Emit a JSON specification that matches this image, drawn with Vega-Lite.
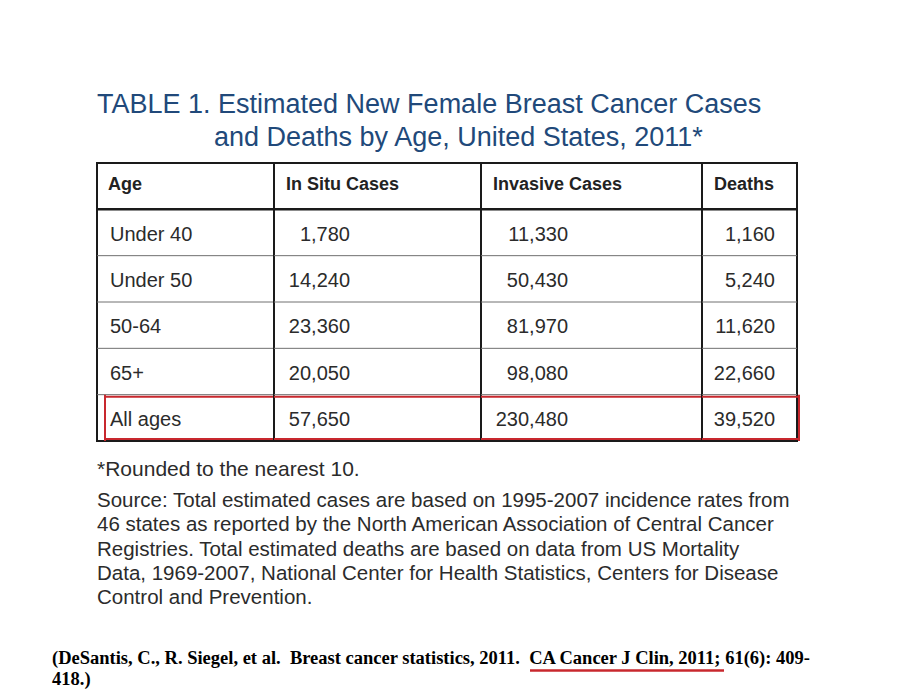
{
  "$schema": "https://vega.github.io/schema/vega-lite/v6.json",
  "background": "white",
  "padding": {"left": 52, "top": 64, "right": 0, "bottom": 0},
  "spacing": 0,
  "config": {"view": {"stroke": null}, "text": {"font": "Liberation Sans"}},
  "datasets": {
    "title": [
      {"line": 1, "text": "TABLE 1. Estimated New Female Breast Cancer Cases"},
      {"line": 2, "text": "and Deaths by Age, United States, 2011*"}
    ],
    "rows": [
      {"Age": "Under 40", "InSitu": 1780, "Invasive": 11330, "Deaths": 1160},
      {"Age": "Under 50", "InSitu": 14240, "Invasive": 50430, "Deaths": 5240},
      {"Age": "50-64", "InSitu": 23360, "Invasive": 81970, "Deaths": 11620},
      {"Age": "65+", "InSitu": 20050, "Invasive": 98080, "Deaths": 22660},
      {"Age": "All ages", "InSitu": 57650, "Invasive": 230480, "Deaths": 39520}
    ],
    "notes": [
      {"line": 0, "text": "*Rounded to the nearest 10."},
      {"line": 1, "text": "Source: Total estimated cases are based on 1995-2007 incidence rates from"},
      {"line": 2, "text": "46 states as reported by the North American Association of Central Cancer"},
      {"line": 3, "text": "Registries. Total estimated deaths are based on data from US Mortality"},
      {"line": 4, "text": "Data, 1969-2007, National Center for Health Statistics, Centers for Disease"},
      {"line": 5, "text": "Control and Prevention."}
    ],
    "cite": [
      {"line": 1, "text": "(DeSantis, C., R. Siegel, et al.\u00a0 Breast cancer statistics, 2011.\u00a0 CA Cancer J Clin, 2011; 61(6): 409-"},
      {"line": 2, "text": "418.)"}
    ]
  },
  "vconcat": [
    {
      "width": 868,
      "height": 98,
      "data": {"name": "title"},
      "encoding": {
        "y": {"field": "line", "type": "ordinal", "axis": null,
              "scale": {"type": "point", "domain": [1, 2], "padding": 1, "align": 0.75}}
      },
      "layer": [
        {
          "transform": [{"filter": "datum.line == 1"}],
          "mark": {"type": "text", "align": "left", "baseline": "alphabetic", "dx": -389, "fontSize": 27, "letterSpacing": -0.12, "fill": "#21497a"},
          "encoding": {"text": {"field": "text"}}
        },
        {
          "transform": [{"filter": "datum.line == 2"}],
          "mark": {"type": "text", "align": "left", "baseline": "alphabetic", "dx": -272, "fontSize": 27, "letterSpacing": 0.5, "fill": "#21497a"},
          "encoding": {"text": {"field": "text"}}
        }
      ]
    },
    {
      "spacing": 0,
      "bounds": "flush",
      "hconcat": [
        {
          "width": 45, "height": 278,
          "data": {"values": [{}]},
          "mark": {"type": "text", "text": ""},
          "encoding": {}
        },
        {
          "width": 177, "height": 278,
          "view": {"stroke": "#1a1a1a", "strokeWidth": 2},
          "layer": [
            {"data": {"name": "rows"}, "mark": {"type": "rule", "color": "#707070", "strokeWidth": 1},
             "encoding": {"y": {"field": "Age", "type": "ordinal", "bandPosition": 0, "axis": null,
               "scale": {"type": "band", "domain": ["Age", "Under 40", "Under 50", "50-64", "65+", "All ages"], "paddingInner": 0, "paddingOuter": 0}}}},
            {"data": {"values": [{}]}, "mark": {"type": "rule", "color": "#1a1a1a", "strokeWidth": 2.5},
             "encoding": {"y": {"datum": "Under 40", "type": "ordinal", "bandPosition": 0}}},
            {"data": {"values": [{}]}, "mark": {"type": "text", "text": "Age", "align": "left", "baseline": "middle", "dx": -77.5, "dy": -1, "fontWeight": "bold", "fontSize": 18, "fill": "#222222"},
             "encoding": {"y": {"datum": "Age", "type": "ordinal"}}},
            {"data": {"name": "rows"}, "mark": {"type": "text", "align": "left", "baseline": "middle", "dx": -75.5, "dy": 2, "fontSize": 20, "fill": "#2b2b2b"},
             "encoding": {"y": {"field": "Age", "type": "ordinal"}, "text": {"field": "Age"}}},
            {"data": {"values": [{}]}, "mark": {"type": "rule", "color": "#c8282e", "strokeWidth": 2, "yOffset": 2},
             "encoding": {"y": {"datum": "All ages", "type": "ordinal", "bandPosition": 0}, "x": {"value": 7}, "x2": {"value": 177}}},
            {"data": {"values": [{}]}, "mark": {"type": "rule", "color": "#c8282e", "strokeWidth": 2, "yOffset": -2},
             "encoding": {"y": {"datum": "All ages", "type": "ordinal", "bandPosition": 1}, "x": {"value": 7}, "x2": {"value": 177}}},
            {"data": {"values": [{}]}, "mark": {"type": "rect", "fill": "#c8282e"},
             "encoding": {"y": {"datum": "All ages", "type": "ordinal"}, "x": {"value": 7}, "x2": {"value": 9}}}
          ]
        },
        {
          "width": 207, "height": 278,
          "view": {"stroke": "#1a1a1a", "strokeWidth": 2},
          "layer": [
            {"data": {"name": "rows"}, "mark": {"type": "rule", "color": "#707070", "strokeWidth": 1},
             "encoding": {"y": {"field": "Age", "type": "ordinal", "bandPosition": 0, "axis": null,
               "scale": {"type": "band", "domain": ["Age", "Under 40", "Under 50", "50-64", "65+", "All ages"], "paddingInner": 0, "paddingOuter": 0}}}},
            {"data": {"values": [{}]}, "mark": {"type": "rule", "color": "#1a1a1a", "strokeWidth": 2.5},
             "encoding": {"y": {"datum": "Under 40", "type": "ordinal", "bandPosition": 0}}},
            {"data": {"values": [{}]}, "mark": {"type": "text", "text": "In Situ Cases", "align": "left", "baseline": "middle", "dx": -91.5, "dy": -1, "fontWeight": "bold", "fontSize": 18, "fill": "#222222"},
             "encoding": {"y": {"datum": "Age", "type": "ordinal"}}},
            {"data": {"name": "rows"}, "mark": {"type": "text", "align": "right", "baseline": "middle", "dx": -27.5, "dy": 2, "fontSize": 20, "fill": "#2b2b2b"},
             "encoding": {"y": {"field": "Age", "type": "ordinal"}, "text": {"field": "InSitu", "type": "quantitative", "format": ","}}},
            {"data": {"values": [{}]}, "mark": {"type": "rule", "color": "#c8282e", "strokeWidth": 2, "yOffset": 2},
             "encoding": {"y": {"datum": "All ages", "type": "ordinal", "bandPosition": 0}}},
            {"data": {"values": [{}]}, "mark": {"type": "rule", "color": "#c8282e", "strokeWidth": 2, "yOffset": -2},
             "encoding": {"y": {"datum": "All ages", "type": "ordinal", "bandPosition": 1}}}
          ]
        },
        {
          "width": 221, "height": 278,
          "view": {"stroke": "#1a1a1a", "strokeWidth": 2},
          "layer": [
            {"data": {"name": "rows"}, "mark": {"type": "rule", "color": "#707070", "strokeWidth": 1},
             "encoding": {"y": {"field": "Age", "type": "ordinal", "bandPosition": 0, "axis": null,
               "scale": {"type": "band", "domain": ["Age", "Under 40", "Under 50", "50-64", "65+", "All ages"], "paddingInner": 0, "paddingOuter": 0}}}},
            {"data": {"values": [{}]}, "mark": {"type": "rule", "color": "#1a1a1a", "strokeWidth": 2.5},
             "encoding": {"y": {"datum": "Under 40", "type": "ordinal", "bandPosition": 0}}},
            {"data": {"values": [{}]}, "mark": {"type": "text", "text": "Invasive Cases", "align": "left", "baseline": "middle", "dx": -98.5, "dy": -1, "fontWeight": "bold", "fontSize": 18, "fill": "#222222"},
             "encoding": {"y": {"datum": "Age", "type": "ordinal"}}},
            {"data": {"name": "rows"}, "mark": {"type": "text", "align": "right", "baseline": "middle", "dx": -23.5, "dy": 2, "fontSize": 20, "fill": "#2b2b2b"},
             "encoding": {"y": {"field": "Age", "type": "ordinal"}, "text": {"field": "Invasive", "type": "quantitative", "format": ","}}},
            {"data": {"values": [{}]}, "mark": {"type": "rule", "color": "#c8282e", "strokeWidth": 2, "yOffset": 2},
             "encoding": {"y": {"datum": "All ages", "type": "ordinal", "bandPosition": 0}}},
            {"data": {"values": [{}]}, "mark": {"type": "rule", "color": "#c8282e", "strokeWidth": 2, "yOffset": -2},
             "encoding": {"y": {"datum": "All ages", "type": "ordinal", "bandPosition": 1}}}
          ]
        },
        {
          "width": 95, "height": 278,
          "view": {"stroke": "#1a1a1a", "strokeWidth": 2},
          "layer": [
            {"data": {"name": "rows"}, "mark": {"type": "rule", "color": "#707070", "strokeWidth": 1},
             "encoding": {"y": {"field": "Age", "type": "ordinal", "bandPosition": 0, "axis": null,
               "scale": {"type": "band", "domain": ["Age", "Under 40", "Under 50", "50-64", "65+", "All ages"], "paddingInner": 0, "paddingOuter": 0}}}},
            {"data": {"values": [{}]}, "mark": {"type": "rule", "color": "#1a1a1a", "strokeWidth": 2.5},
             "encoding": {"y": {"datum": "Under 40", "type": "ordinal", "bandPosition": 0}}},
            {"data": {"values": [{}]}, "mark": {"type": "text", "text": "Deaths", "align": "left", "baseline": "middle", "dx": -35.5, "dy": -1, "fontWeight": "bold", "fontSize": 18, "fill": "#222222"},
             "encoding": {"y": {"datum": "Age", "type": "ordinal"}}},
            {"data": {"name": "rows"}, "mark": {"type": "text", "align": "right", "baseline": "middle", "dx": 25.5, "dy": 2, "fontSize": 20, "fill": "#2b2b2b"},
             "encoding": {"y": {"field": "Age", "type": "ordinal"}, "text": {"field": "Deaths", "type": "quantitative", "format": ","}}},
            {"data": {"values": [{}]}, "mark": {"type": "rule", "color": "#c8282e", "strokeWidth": 2, "yOffset": 2},
             "encoding": {"y": {"datum": "All ages", "type": "ordinal", "bandPosition": 0}, "x": {"value": 0}, "x2": {"value": 98}}},
            {"data": {"values": [{}]}, "mark": {"type": "rule", "color": "#c8282e", "strokeWidth": 2, "yOffset": -2},
             "encoding": {"y": {"datum": "All ages", "type": "ordinal", "bandPosition": 1}, "x": {"value": 0}, "x2": {"value": 98}}},
            {"data": {"values": [{}]}, "mark": {"type": "rect", "fill": "#c8282e"},
             "encoding": {"y": {"datum": "All ages", "type": "ordinal"}, "x": {"value": 96}, "x2": {"value": 98}}}
          ]
        }
      ]
    },
    {
      "width": 745,
      "height": 180,
      "data": {"name": "notes"},
      "encoding": {
        "y": {"field": "line", "type": "ordinal", "axis": null,
              "scale": {"type": "point", "domain": [-1, 0, 1, 2, 3, 4, 5], "padding": 0.7037, "align": 0.4795}}
      },
      "layer": [
        {
          "transform": [{"filter": "datum.line == 0"}],
          "mark": {"type": "text", "align": "left", "baseline": "alphabetic", "dx": -327.5, "dy": -6.7, "fontSize": 21, "fill": "#2b2b2b"},
          "encoding": {"text": {"field": "text"}}
        },
        {
          "transform": [{"filter": "datum.line == 1"}],
          "mark": {"type": "text", "align": "left", "baseline": "alphabetic", "dx": -327.5, "fontSize": 20.5, "letterSpacing": 0.11, "fill": "#2b2b2b"},
          "encoding": {"text": {"field": "text"}}
        },
        {
          "transform": [{"filter": "datum.line == 2"}],
          "mark": {"type": "text", "align": "left", "baseline": "alphabetic", "dx": -327.5, "fontSize": 20.5, "letterSpacing": 0.32, "fill": "#2b2b2b"},
          "encoding": {"text": {"field": "text"}}
        },
        {
          "transform": [{"filter": "datum.line == 3"}],
          "mark": {"type": "text", "align": "left", "baseline": "alphabetic", "dx": -327.5, "fontSize": 20.5, "letterSpacing": 0.83, "fill": "#2b2b2b"},
          "encoding": {"text": {"field": "text"}}
        },
        {
          "transform": [{"filter": "datum.line == 4"}],
          "mark": {"type": "text", "align": "left", "baseline": "alphabetic", "dx": -327.5, "fontSize": 20.5, "letterSpacing": 0.25, "fill": "#2b2b2b"},
          "encoding": {"text": {"field": "text"}}
        },
        {
          "transform": [{"filter": "datum.line == 5"}],
          "mark": {"type": "text", "align": "left", "baseline": "alphabetic", "dx": -327.5, "fontSize": 20.5, "fill": "#2b2b2b"},
          "encoding": {"text": {"field": "text"}}
        }
      ]
    },
    {
      "width": 868,
      "height": 63,
      "data": {"name": "cite"},
      "encoding": {
        "y": {"field": "line", "type": "ordinal", "axis": null,
              "scale": {"type": "point", "domain": [1, 2], "padding": 1, "align": 1}}
      },
      "layer": [
        {
          "mark": {"type": "text", "align": "left", "baseline": "alphabetic", "dx": -434, "font": "Liberation Serif", "fontWeight": "bold", "fontSize": 18.5, "fill": "#000000"},
          "encoding": {"text": {"field": "text"}}
        },
        {
          "data": {"values": [{}]},
          "mark": {"type": "rule", "color": "#c8282e", "strokeWidth": 2.5, "yOffset": 6.5},
          "encoding": {"y": {"datum": 1, "type": "ordinal"}, "x": {"value": 478}, "x2": {"value": 672}}
        }
      ]
    }
  ]
}
